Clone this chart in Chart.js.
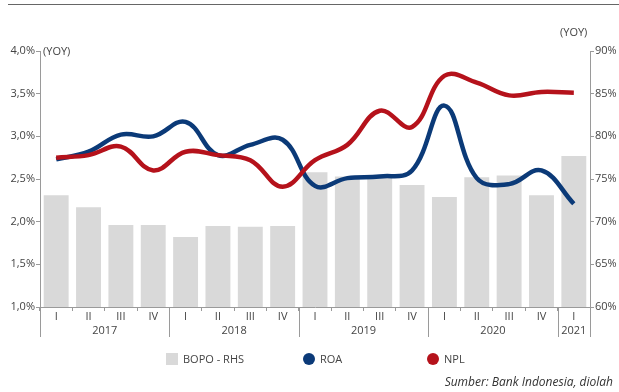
<!DOCTYPE html>
<html>
<head>
<meta charset="utf-8">
<script src="https://cdn.jsdelivr.net/npm/chart.js@4/dist/chart.umd.min.js"></script>
<style>
  body { margin: 0; width: 619px; height: 392px; position: relative; background: #fff; font-family: "Open Sans", sans-serif; color: #444; overflow: hidden; }
  #wrap { position: absolute; left: 0; top: 0; width: 619px; height: 392px; }
  .topline { position: absolute; left: 8px; right: 0; top: 4px; height: 0; border-top: 1.5px solid #666; }
  .yoy { position: absolute; font-size: 11px; color: #444; }
  .legend { position: absolute; top: 352px; font-size: 11px; color: #444; line-height: 14px; }
  .legend span.box { position: absolute; left: 0; top: 1px; width: 12px; height: 12px; }
  .legend span.txt { position: absolute; left: 17px; top: 0; white-space: nowrap; }
  .source { position: absolute; right: 6px; top: 373px; font-size: 12px; font-style: italic; color: #333; }
</style>
</head>
<body>
<div id="wrap"><canvas id="myChart" width="619" height="392"></canvas></div>
<div class="topline"></div>
<div class="yoy" style="left:43px; top:43px;">(YOY)</div>
<div class="yoy" style="left:560px; top:24px;">(YOY)</div>
<div class="legend" style="left:166px;"><span class="box" style="background:#d9d9d9;"></span><span class="txt">BOPO - RHS</span></div>
<div class="legend" style="left:303px;"><span class="box" style="background:#0b3a78; border-radius:50%;"></span><span class="txt">ROA</span></div>
<div class="legend" style="left:427px;"><span class="box" style="background:#b5121b; border-radius:50%;"></span><span class="txt">NPL</span></div>
<div class="source">Sumber: Bank Indonesia, diolah</div>
<script>
// quarters 2017 I - 2021 I
const quarters = ['I','II','III','IV','I','II','III','IV','I','II','III','IV','I','II','III','IV','I'];
const years = ['2017','2018','2019','2020','2021'];
const yearSizes = [4, 4, 4, 4, 1]; // number of quarters in each year group

const bopo = [73.1, 71.7, 69.6, 69.6, 68.2, 69.5, 69.4, 69.5, 75.8, 75.3, 75.2, 74.3, 72.9, 75.2, 75.4, 73.1, 77.7]; // RHS
const roa  = [2.73, 2.82, 3.02, 3.00, 3.17, 2.78, 2.90, 2.96, 2.42, 2.51, 2.53, 2.60, 3.36, 2.51, 2.44, 2.60, 2.21];
const npl  = [2.75, 2.78, 2.88, 2.60, 2.82, 2.78, 2.72, 2.41, 2.72, 2.90, 3.30, 3.11, 3.71, 3.63, 3.48, 3.52, 3.51];

const tickFont = { family: 'Open Sans', size: 11 };
const axisColor = '#9a9a9a';

// year row under the quarter labels, with separators
const yearRows = {
    id: 'yearRows',
    afterDraw(chart) {
        const ctx = chart.ctx;
        const x = chart.scales.x;
        const half = (x.getPixelForValue(1) - x.getPixelForValue(0)) / 2;
        const top = chart.chartArea.bottom;
        ctx.save();
        ctx.strokeStyle = axisColor;
        ctx.lineWidth = 1;
        ctx.fillStyle = '#444';
        ctx.font = '11px "Open Sans"';
        ctx.textAlign = 'center';
        ctx.textBaseline = 'middle';
        let start = 0;
        const drawSep = (px) => {
            ctx.beginPath();
            ctx.moveTo(Math.round(px) + 0.5, top);
            ctx.lineTo(Math.round(px) + 0.5, top + 30);
            ctx.stroke();
        };
        drawSep(x.getPixelForValue(0) - half);
        yearSizes.forEach((n, i) => {
            const left = x.getPixelForValue(start) - half;
            const right = x.getPixelForValue(start + n - 1) + half;
            ctx.fillText(years[i], (left + right) / 2, top + 24);
            drawSep(right);
            start += n;
        });
        ctx.restore();
    }
};

function createChart(){
    const ctx = document.getElementById('myChart');
    new Chart(ctx, {
        data: {
            labels: quarters,
            datasets: [
                {
                    type: 'line',
                    label: 'NPL',
                    data: npl,
                    yAxisID: 'y',
                    borderColor: '#b5121b',
                    borderWidth: 4.5,
                    pointRadius: 0,
                    tension: 0.4,
                    fill: false,
                    order: 1
                },
                {
                    type: 'line',
                    label: 'ROA',
                    data: roa,
                    yAxisID: 'y',
                    borderColor: '#0b3a78',
                    borderWidth: 4.5,
                    pointRadius: 0,
                    tension: 0.4,
                    fill: false,
                    order: 2
                },
                {
                    type: 'bar',
                    label: 'BOPO - RHS',
                    data: bopo,
                    yAxisID: 'y1',
                    backgroundColor: '#d9d9d9',
                    categoryPercentage: 1,
                    barPercentage: 0.77,
                    order: 3
                }
            ]
        },
        options: {
            responsive: false,
            animation: false,
            layout: { padding: { top: 51, left: 0, right: 0, bottom: 0 } },
            scales: {
                x: {
                    offset: true,
                    grid: { offset: true, drawOnChartArea: false, tickLength: 4, color: axisColor },
                    border: { color: axisColor },
                    ticks: { font: tickFont, color: '#444', padding: -1, autoSkip: false, maxRotation: 0 },
                    afterFit(scale) { scale.height = 85; }
                },
                y: {
                    position: 'left',
                    min: 1, max: 4,
                    grid: { drawOnChartArea: false, tickLength: 4, color: axisColor },
                    border: { color: axisColor },
                    ticks: {
                        stepSize: 0.5,
                        font: tickFont, color: '#444', padding: 1,
                        callback: v => v.toFixed(1).replace('.', ',') + '%'
                    },
                    afterFit(scale) { scale.width = 40; }
                },
                y1: {
                    position: 'right',
                    min: 60, max: 90,
                    grid: { drawOnChartArea: false, tickLength: 4, color: axisColor },
                    border: { color: axisColor },
                    ticks: {
                        stepSize: 5,
                        font: tickFont, color: '#444', padding: 1,
                        callback: v => v + '%'
                    },
                    afterFit(scale) { scale.width = 29; }
                }
            },
            plugins: {
                legend: { display: false },
                tooltip: { enabled: false }
            }
        },
        plugins: [yearRows]
    });
}

createChart();
</script>
</body>
</html>
